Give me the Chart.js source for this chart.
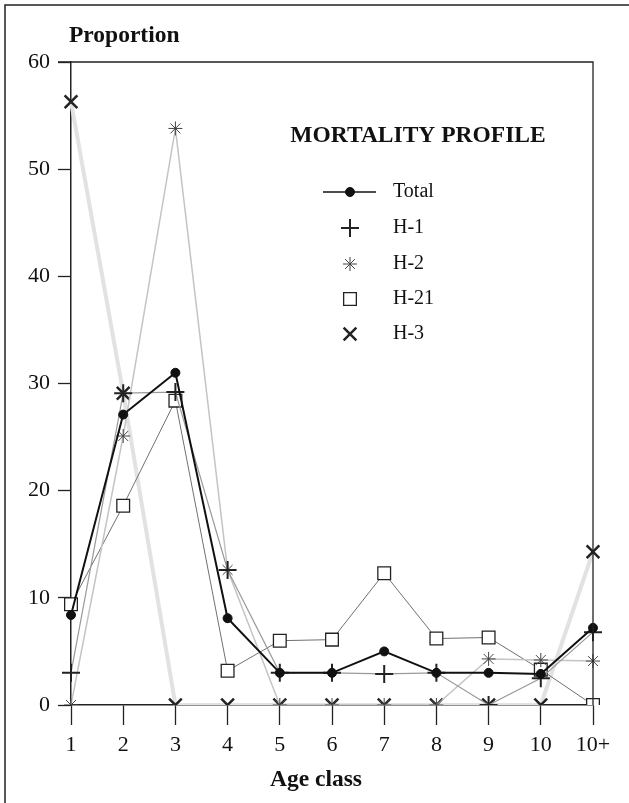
<!DOCTYPE html>
<html>
<head>
<meta charset="utf-8">
<script src="https://cdn.jsdelivr.net/npm/chart.js@4/dist/chart.umd.min.js"></script>
<style>
  html, body { margin: 0; padding: 0; background: #fff; }
  #wrap { position: relative; width: 629px; height: 803px; }
</style>
</head>
<body>
<div id="wrap"><canvas id="grafico"></canvas></div>
<script>
// datos
var clasesEdad = ['1', '2', '3', '4', '5', '6', '7', '8', '9', '10', '10+'];
var total = [8.4, 27.1, 31.0, 8.1, 3.0, 3.0, 5.0, 3.0, 3.0, 2.9, 7.2];
var h1 = [3.0, 29.1, 29.2, 12.6, 3.0, 3.0, 2.9, 3.0, 0, 2.5, 6.8];
var h2 = [0, 25.1, 53.8, 12.6, 0, 0, 0, 0, 4.3, 4.2, 4.1];
var h21 = [9.4, 18.6, 28.4, 3.2, 6.0, 6.1, 12.3, 6.2, 6.3, 3.3, 0];
var h3 = [56.3, 29.1, 0, 0, 0, 0, 0, 0, 0, 0, 14.3];
var ticksY = [0, 10, 20, 30, 40, 50, 60];

var serif = '"Liberation Serif", "DejaVu Serif", serif';

var series = [
    { label: 'Total', data: total, line: '#111', lw: 2, style: 'circle', r: 4.5, pc: '#111', bg: '#111', pw: 1 },
    { label: 'H-1', data: h1, line: '#9a9a9a', lw: 1.2, style: 'cross', r: 9, pc: '#222', bg: '#222', pw: 2 },
    { label: 'H-2', data: h2, line: '#c4c4c4', lw: 1.5, style: 'star', r: 7, pc: '#444', bg: '#444', pw: 1 },
    { label: 'H-21', data: h21, line: '#707070', lw: 1, style: 'rect', r: 9, pc: '#222', bg: '#fff', pw: 1.3 },
    { label: 'H-3', data: h3, line: '#e2e2e2', lw: 4, style: 'crossRot', r: 9, pc: '#222', bg: '#222', pw: 2.5 }
];

var datasets = series.map(function (s) {
    return {
        label: s.label,
        data: s.data,
        borderColor: s.line,
        borderWidth: s.lw,
        pointStyle: s.style,
        pointRadius: s.r,
        pointBorderColor: s.pc,
        pointBackgroundColor: s.bg,
        pointBorderWidth: s.pw,
        tension: 0,
        fill: false
    };
});

// marco, titulos y leyenda
var decoracion = {
    id: 'decoracion',
    afterDraw: function (chart) {
        var ctx = chart.ctx;
        var a = chart.chartArea;
        ctx.save();
        ctx.strokeStyle = '#222';
        ctx.lineWidth = 1.5;
        ctx.beginPath();
        ctx.moveTo(5, 803);
        ctx.lineTo(5, 5);
        ctx.lineTo(629, 5);
        ctx.stroke();
        ctx.lineWidth = 1.3;
        ctx.beginPath();
        ctx.moveTo(a.left - 13, a.top);
        ctx.lineTo(a.right, a.top);
        ctx.lineTo(a.right, a.bottom);
        ctx.stroke();

        ctx.fillStyle = '#111';
        ctx.textBaseline = 'middle';
        ctx.font = 'bold 23.5px ' + serif;
        ctx.textAlign = 'left';
        ctx.fillText('Proportion', 69, 36);
        ctx.textAlign = 'center';
        ctx.fillText('Age class', 316, 780);
        ctx.fillText('MORTALITY PROFILE', 418, 136);

        // leyenda
        var ys = [192, 228, 264, 299, 334];
        ctx.font = '20px ' + serif;
        ctx.textAlign = 'left';
        series.forEach(function (s, i) {
            var y = ys[i];
            if (i === 0) {
                ctx.strokeStyle = '#111';
                ctx.lineWidth = 1.5;
                ctx.beginPath();
                ctx.moveTo(323, y);
                ctx.lineTo(376, y);
                ctx.stroke();
            }
            ctx.fillStyle = s.bg;
            ctx.strokeStyle = s.pc;
            ctx.lineWidth = s.pw;
            Chart.helpers.drawPoint(ctx, {
                pointStyle: s.style,
                radius: s.r,
                rotation: 0,
                borderWidth: s.pw
            }, 350, y);
            ctx.fillStyle = '#111';
            ctx.fillText(s.label, 393, y);
        });
        ctx.restore();
    }
};

var ctx = document.getElementById('grafico').getContext('2d');
var chart = new Chart(ctx, {
    type: 'line',
    data: {
        labels: clasesEdad,
        datasets: datasets
    },
    options: {
        responsive: true,
        maintainAspectRatio: false,
        animation: false,
        layout: { padding: { top: 62, right: 36, left: 0, bottom: 0 } },
        plugins: {
            legend: { display: false },
            tooltip: { enabled: false }
        },
        scales: {
            x: {
                type: 'category',
                offset: false,
                afterFit: function (scale) { scale.height = 98; },
                grid: { drawOnChartArea: false, drawTicks: true, tickLength: 20, tickColor: '#222', tickWidth: 1.3 },
                border: { display: true, color: '#222', width: 1.5 },
                ticks: {
                    color: '#111',
                    padding: 7,
                    maxRotation: 0,
                    autoSkip: false,
                    font: { family: serif, size: 22 }
                }
            },
            y: {
                min: 0,
                max: 60,
                afterFit: function (scale) { scale.width = 71; },
                afterBuildTicks: function (scale) {
                    scale.ticks = ticksY.map(function (v) { return { value: v }; });
                },
                grid: { drawOnChartArea: false, drawTicks: true, tickLength: 13, tickColor: '#222', tickWidth: 1.3 },
                border: { display: true, color: '#222', width: 1.5 },
                ticks: {
                    color: '#111',
                    padding: 8,
                    font: { family: serif, size: 22 }
                }
            }
        }
    },
    plugins: [decoracion]
});
</script>
</body>
</html>
